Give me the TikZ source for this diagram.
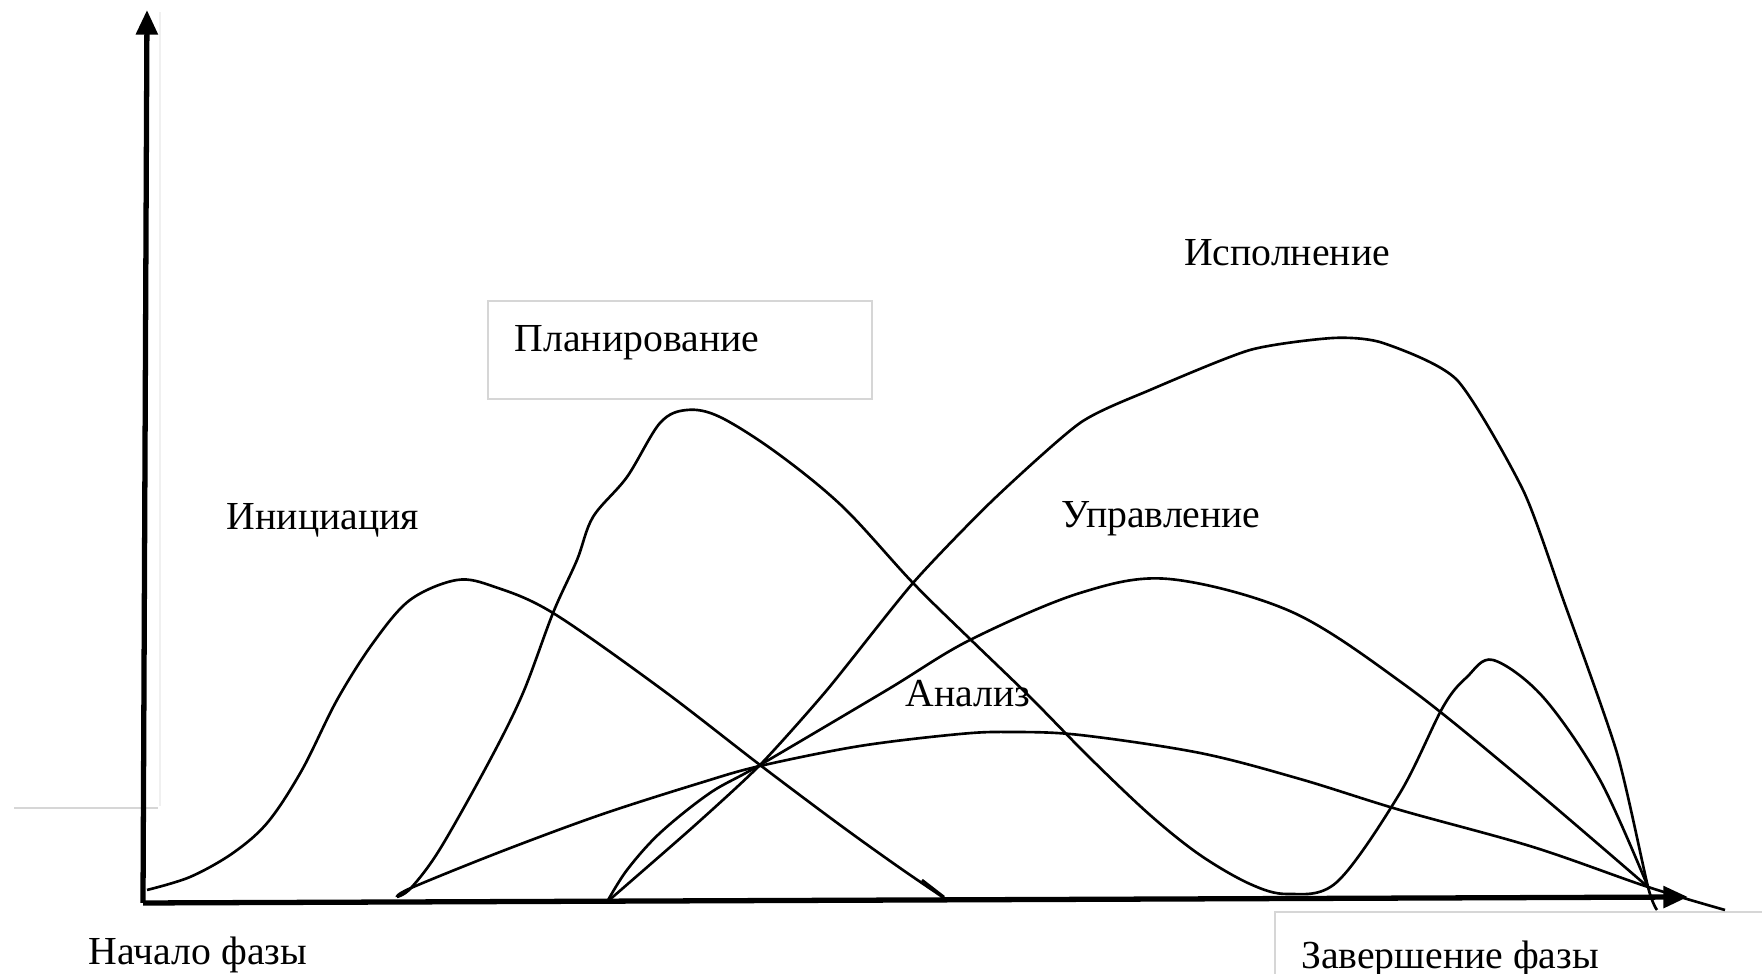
\documentclass[tikz,border=0pt]{standalone}
\usepackage{fontspec}
\setmainfont{Liberation Serif}
\usetikzlibrary{arrows.meta}

\begin{document}
\begin{tikzpicture}[x=0.01cm,y=-0.01cm,
	axis/.style={line width=1.5pt,-{Triangle[length=7pt,width=6pt]}},
	phase/.style={line width=0.75pt},
	lbl/.style={font=\fontsize{11.3}{13}\selectfont,anchor=base,inner sep=0pt},
	frame/.style={draw=black!16,line width=0.6pt}]
		\useasboundingbox (0,0) rectangle (1762,974);
		\draw[frame] (14,808) -- (158,808);
		\draw[draw=black!6,line width=0.6pt] (160,12) -- (160,806);
		\draw[frame] (488,301) rectangle (872,399);
		\draw[frame] (1762,912) -- (1275,912) -- (1275,974);
		\coordinate (o) at (143,903);
		\coordinate (ytop) at (147,10);
		\coordinate (xend) at (1688,897);
		\draw[axis] (o) -- (ytop);
		\draw[axis] (o) -- (xend);
		\draw[phase] plot[smooth,tension=0.55] coordinates {(147,890) (190,877) (233,853) (268,822) (302,770) (337,700) (373,643) (410,600) (457,580) (495,587) (553,613) (660,688) (760,765) (840,825) (900,868) (947,900)};
		\draw[phase] (922,880) -- (944,897);
		\draw[phase] plot[smooth,tension=0.55] coordinates {(397,897) (411,888) (440,849) (490,760) (523,693) (553,613) (577,560) (593,517) (627,477) (660,423) (687,410) (720,417) (777,453) (843,507) (913,583) (970,639) (1030,697) (1090,758) (1150,815) (1200,855) (1250,884) (1288,894) (1337,882) (1400,793) (1443,707) (1467,677) (1493,660) (1543,697) (1600,780) (1648,887)};
		\draw[phase] plot[smooth,tension=0.55] coordinates {(397,897) (411,888) (500,852) (600,815) (700,783) (760,766) (860,746) (960,734) (1011,732) (1080,735) (1200,753) (1300,779) (1400,810) (1533,847) (1648,887) (1725,910)};
		\draw[phase] plot[smooth,tension=0.55] coordinates {(607,902) (627,870) (660,833) (710,793) (760,765) (887,690) (970,640) (1080,593) (1169,579) (1292,612) (1405,685) (1517,775) (1648,887)};
		\draw[phase] plot[smooth,tension=0.4] coordinates {(607,902) (693,827) (760,765) (827,690) (913,583) (993,500) (1080,423) (1150,390) (1250,350) (1333,338) (1383,343) (1457,380) (1523,490) (1563,599) (1617,753) (1648,887) (1657,910)};
		\node[lbl] (init) at (323,530) {Инициация};
		\node[lbl] (plan) at (637,352) {Планирование};
		\node[lbl] (exec) at (1287,266) {Исполнение};
		\node[lbl] (ctrl) at (1161,528) {Управление};
		\node[lbl] (anal) at (968,707) {Анализ};
		\node[lbl] (start) at (198,965) {Начало фазы};
		\node[lbl] (finish) at (1450,969) {Завершение фазы};
\end{tikzpicture}
\end{document}
